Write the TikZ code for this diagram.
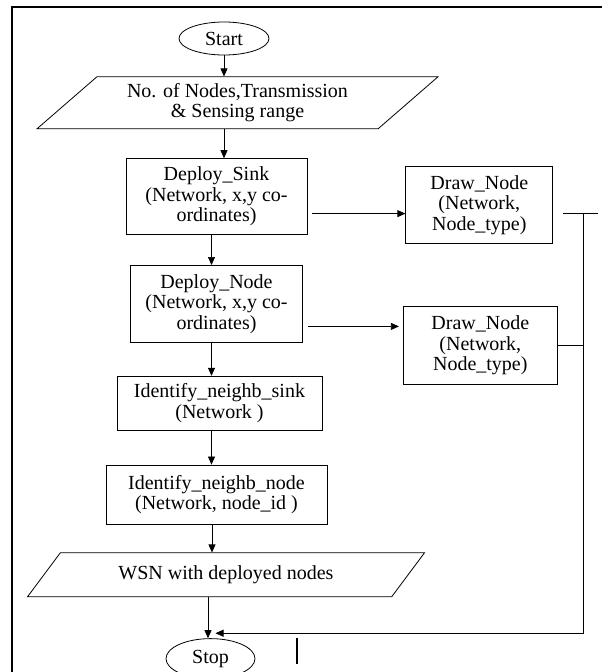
\documentclass[tikz,border=0pt]{standalone}
\usepackage{fontspec}
\setmainfont{Liberation Serif}
\usepackage{tikz}
\usetikzlibrary{shapes.geometric, arrows, arrows.meta}
\usetikzlibrary{positioning}
\tikzstyle{startstop} = [ellipse, draw, line width=0.8pt, inner sep=0pt]
\tikzstyle{io} = [trapezium, draw, line width=0.8pt, inner sep=0pt, trapezium stretches body, align=center]
\tikzstyle{process} = [rectangle, draw, line width=0.8pt, inner sep=0pt, align=center]
\tikzstyle{arrow} = [line width=0.7pt,->,>={Triangle[length=8pt,width=7pt]}]

\begin{document}
\begin{tikzpicture}[x=1pt, y=-1pt, font=\fontsize{20}{20.5}\selectfont]
    \useasboundingbox (0,0) rectangle (602,672);
    % frame
    \draw[line width=1.5pt] (12,672) -- (12,7) -- (602,7);

    \node[startstop, minimum width=90pt, minimum height=33pt] (start) at (224,38.5) {Start};
    \node[io, below=21pt of start, xshift=13.5pt, trapezium left angle=33, trapezium right angle=147,
          minimum width=401pt, minimum height=52pt] (input) {No. of Nodes,Transmission\\\& Sensing range};
    \node[process, below=29pt of input, xshift=-21pt, minimum width=181pt, minimum height=76pt] (sink)
        {Deploy\_Sink\\(Network, x,y co-\\ordinates)};
    \node[process, below=30pt of sink, minimum width=172pt, minimum height=77pt] (dnode)
        {Deploy\_Node\\(Network, x,y co-\\ordinates)};
    \node[process, below=33pt of dnode, xshift=3pt, minimum width=205pt, minimum height=54pt] (nbsink)
        {Identify\_neighb\_sink\\(Network )};
    \node[process, below=34pt of nbsink, xshift=-3pt, minimum width=221pt, minimum height=59pt] (nbnode)
        {Identify\_neighb\_node\\(Network, node\_id )};
    \node[io, below=28pt of nbnode, xshift=9.5pt, trapezium left angle=29, trapezium right angle=151,
          minimum width=397pt, minimum height=44pt] (output) {WSN with deployed nodes};
    \node[startstop, below=41pt of output, xshift=-15.5pt, minimum width=89pt, minimum height=40pt] (stop) {Stop};

    \node[process, right=98pt of sink, yshift=-8.5pt, minimum width=147pt, minimum height=77pt] (draw1)
        {Draw\_Node\\(Network,\\Node\_type)};
    \node[process, right=100pt of dnode, yshift=-41.5pt, minimum width=154pt, minimum height=78pt] (draw2)
        {Draw\_Node\\(Network,\\Node\_type)};

    \coordinate (tickl) at (563,213);
    \coordinate (tickr) at (598,213);
    \coordinate (bus) at (583,213);
    \coordinate (mark) at (297,638);

    \draw[arrow] (start) -- (start |- input.north);
    \draw[arrow] (input.south -| start) -- (sink.north -| start);
    \draw[arrow] ([xshift=-5pt]sink.south) -- ([xshift=-5pt]sink.south |- dnode.north);
    \draw[arrow] ([xshift=-5pt]dnode.south) -- ([xshift=-5pt]dnode.south |- nbsink.north);
    \draw[arrow] ([xshift=-8pt]nbsink.south) -- ([xshift=-8pt]nbsink.south |- nbnode.north);
    \draw[arrow] ([xshift=-4.5pt]nbnode.south) -- ([xshift=-4.5pt]nbnode.south |- output.north);
    \draw[arrow] ([xshift=-2.5pt]output.south -| stop) -- ([xshift=-2.5pt]stop.north);

    \draw[arrow] ([xshift=5pt,yshift=-17pt]sink.east) -- ([yshift=-17pt]sink.east -| draw1.west);
    \draw[arrow, shorten >=4pt] ([xshift=5pt,yshift=-22.5pt]dnode.east) -- ([yshift=-22.5pt]dnode.east -| draw2.west);

    \draw[line width=0.7pt] (tickl) -- (tickr);
    \draw[line width=0.7pt] (draw2.east) -- (draw2.east -| bus);
    \draw[arrow] (bus) |- ([xshift=5pt,yshift=5pt]stop.north);
    \draw[line width=2pt] (mark) -- ++(0,26);
\end{tikzpicture}
\end{document}
